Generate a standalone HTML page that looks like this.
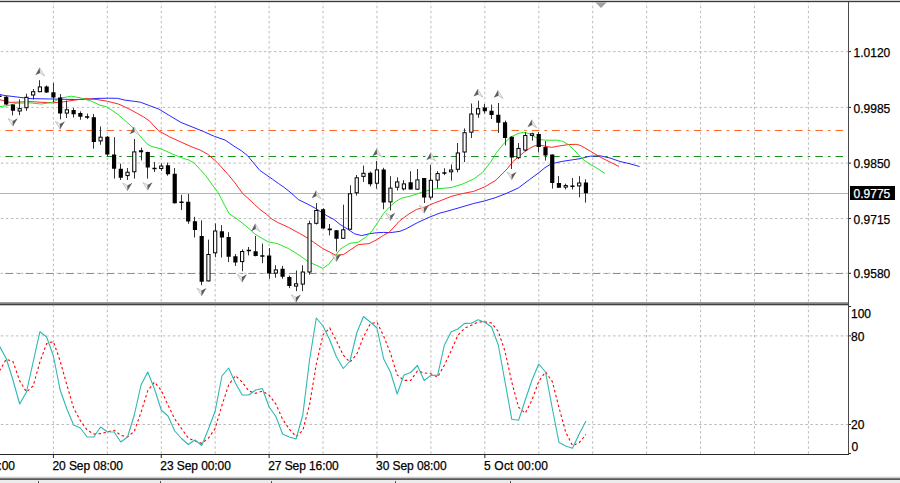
<!DOCTYPE html>
<html><head><meta charset="utf-8"><title>Chart</title>
<style>html,body{margin:0;padding:0;background:#fff;width:900px;height:483px;overflow:hidden}svg{display:block}text{font-family:"Liberation Sans",sans-serif;font-size:12px;fill:#000;stroke:#000;stroke-width:0.25px}</style>
</head><body>
<svg width="900" height="483" viewBox="0 0 900 483">
<rect x="0" y="0" width="900" height="483" fill="#fff"/>
<path d="M53.4 2V302M53.4 306V454M107.33 2V302M107.33 306V454M161.26 2V302M161.26 306V454M215.19 2V302M215.19 306V454M269.12 2V302M269.12 306V454M323.05 2V302M323.05 306V454M376.98 2V302M376.98 306V454M430.91 2V302M430.91 306V454M484.84 2V302M484.84 306V454M538.77 2V302M538.77 306V454M592.7 2V302M592.7 306V454M646.63 2V302M646.63 306V454M700.56 2V302M700.56 306V454M754.49 2V302M754.49 306V454M808.42 2V302M808.42 306V454" stroke="#bcbcbc" stroke-width="1" stroke-dasharray="2.53 2.53" stroke-dashoffset="1.4" fill="none"/>
<path d="M0 51.6H848M0 107.4H848M0 163.1H848M0 218.5H848M0 273.3H848M0 335.9H848M0 424.5H848" stroke="#bcbcbc" stroke-width="1" stroke-dasharray="2.53 2.53" stroke-dashoffset="-0.8" fill="none"/>
<path d="M0 130.5H843" stroke="#ff6628" stroke-width="1" stroke-dasharray="7.6 5.06 2.53 5.06" stroke-dashoffset="-5.3" fill="none"/>
<path d="M0 273.5H843" stroke="#ff6628" stroke-width="1" stroke-dasharray="7.6 5.06 2.53 5.06" stroke-dashoffset="-5.3" fill="none"/>
<path d="M0 156.5H843" stroke="#17901a" stroke-width="1" stroke-dasharray="7.6 5.06 2.53 5.06" stroke-dashoffset="-5.3" fill="none"/>
<path d="M0 193.5H848" stroke="#b4b4b4" stroke-width="1" fill="none"/>
<polyline points="0,94.5 4,95.4 30,98.6 52.4,99 74.7,99.5 86,99.3 97,98.4 108.3,98.2 117.4,98.3 124.8,100.1 134.2,101.3 140.4,102.2 149.7,105.7 158.6,109 169.7,115.7 180.9,122.4 192.1,126.9 203.3,131.4 214.5,136.4 225,140 235,146.8 241.2,150.6 247.4,155.5 253.6,163 259.8,170.4 266.1,174.8 272.3,179.1 278.5,183.5 284.7,187.8 290.9,192.8 298.4,199.6 307.2,203.9 316,208.6 321,211.9 327.7,216.2 334,219.5 340,224.4 347.2,228.8 354.5,233.8 361.7,235.6 369,233.8 376.2,232.8 383.5,232.4 390.7,232.6 400,231.3 406.5,228.6 417.7,222.5 428.9,217.4 440.1,213 445,211.8 460,207.5 473.6,203.5 484.7,200.9 495.9,197.5 507.1,193.1 518.3,188 529.5,179.6 540,171.8 545,167.6 551.5,163.7 562.7,161.3 573.9,159.6 580,158.7 590,156.2 600,155.8 610,158 620,161.5 630,163.8 639.5,166.5" stroke="#1a1aff" stroke-width="0.95" fill="none" stroke-linejoin="round"/>
<polyline points="0,99.7 5,101.2 10,102.4 30,101.6 52.4,102.9 63.6,101.8 74.7,100.1 86,98.6 97,99.5 107.5,101.3 118.6,104.1 124.8,106.9 131.1,110 137.3,113.4 143.5,116.8 149.7,121.2 158.6,130.8 169.7,136.9 180.9,142 192.1,147 200.3,150.1 208.2,154.5 217.1,162.4 228.3,174.7 235,182.9 242.5,193.4 249.9,200 254.7,204.6 260,209.5 266.2,214 271.8,219 277.4,222.3 288.6,227.4 299.7,233.5 307.6,238 313.2,241.9 322.4,248.3 335.7,255.2 340.7,254.9 343.6,254.5 350.1,250 358.1,244.7 369,243.6 376.2,240 383.5,235.3 389.1,232.3 399.8,220.7 408.1,214.5 416.4,209.5 425,207 434.5,202.9 440,200.9 451.2,196.4 462.4,193.6 473.6,191.4 484.7,186.9 495.9,180.2 507.5,168.5 512.5,162 518.2,157 523.7,152.4 529.1,148.6 534.7,145.8 540.3,145.2 545.9,146.3 551.5,147.4 557.1,146.3 568.3,144.6 576.1,144.3 580,145.3 585,148 590,151 595,154 600,157 610,162 619,166.5" stroke="#ff1a1a" stroke-width="0.95" fill="none" stroke-linejoin="round"/>
<polyline points="0,106.6 8,105.6 17,103.2 30,102.9 41.2,104 52.4,102.3 61.3,97.9 71.4,96.2 80.3,97.9 91.5,101.2 100,105.2 106.2,106.6 112.4,110.6 118.6,115 126.1,121.5 130,124.9 136.2,131.9 147.4,144.2 152,146.6 161.2,148.9 172.4,154 183.6,158.5 189.1,160.1 194.7,163.5 205.9,175.8 212.4,185 217.5,191.7 221.2,198.4 224.5,205.1 229,213.5 238,219.7 249.1,228.6 255,234.1 261.5,238.1 268.4,241.9 277.4,243.6 288.6,248.6 297.2,253.8 307.4,261 311.7,263.2 323,268.4 329.1,263.9 335.7,255.2 340,249.4 344.3,246.5 350,243.3 358.1,242.2 365.4,237.5 372.6,230.2 377.7,222.5 383.3,213.7 389.7,206.8 395.3,201.8 400.9,198.4 412.1,195.6 423.3,191.7 434.5,188.9 440,188.6 451.2,187.5 462.4,184.1 473.6,179.1 482.5,172.4 490.2,162.8 496.3,152.8 503.4,144.1 510.1,137.4 518,133.5 523.6,132.3 529.1,133.5 534.7,136.8 540.3,139.6 545.9,140.2 557.1,140.2 562.7,141.3 568.3,144.6 573.9,149.7 579,155.5 585,161 590,164.3 595,167 605,173.5" stroke="#14e614" stroke-width="0.95" fill="none" stroke-linejoin="round"/>
<path d="M-0.5 94.5V98M6.5 96V105.2M12.5 104.4V115.4M19.5 99.4V115.2M26.5 93.7V110.8M33.5 89V99.5M39.5 80.2V92.2M46.5 85.4V93M53.5 82.9V102M60.5 94V119.4M66.5 100.6V118M73.5 108V117.5M80.5 111.4V119.7M87.5 113.6V119M93.5 113.9V148.7M100.5 126.5V144.8M107.5 136V156.2M114.5 137.2V178.6M120.5 163.6V180M127.5 168V180M134.5 139V178.6M141.5 147.7V160.4M147.5 151.7V178.6M154.5 162V172M161.5 163.3V170.9M167.5 162.6V175.7M174.5 168V203.5M181.5 194.8V210M188.5 194V223.8M194.5 216.8V237.5M201.5 220.3V285.3M208.5 239.6V281.4M215.5 223.4V257.2M221.5 225.2V257.5M228.5 232.2V262.1M235.5 254V266M242.5 249.3V271.2M248.5 247V255.4M255.5 236V256.4M262.5 243.5V263.2M269.5 248V278.8M275.5 265.3V277.7M282.5 265.9V278.8M289.5 275.6V288.1M296.5 270.5V291.2M302.5 265.3V291.2M309.5 220.7V274.6M316.5 203.1V224.5M323.5 208.3V229M329.5 224V235.4M336.5 230.2V251.4M343.5 204.7V238.8M350.5 185.3V229.7M356.5 175V195.6M363.5 165.5V181.9M370.5 171.6V186.4M376.5 160.9V188.7M383.5 167.8V209.2M390.5 176.2V210.4M397.5 177.3V190.5M403.5 180.1V190.5M410.5 171.2V189.4M417.5 169V190M424.5 178.1V203M430.5 164.9V199.6M437.5 171.2V188.4M444.5 168.2V175.1M451.5 164.5V180.6M457.5 143V172.3M464.5 128.4V162M471.5 103.5V138M478.5 100.7V117.8M484.5 104V113.5M491.5 104.5V119M498.5 102.9V133M505.5 120.6V145.4M511.5 136.3V169M518.5 143V159.2M525.5 132.2V151.3M532.5 132.7V140.7M538.5 132.1V152.3M545.5 141.1V160.6M552.5 154.5V188.6M558.5 176.1V188M565.5 183.6V189.5M572.5 178V189.5M579.5 176.1V197.4M585.5 179.3V202.6" stroke="#333" stroke-width="1" fill="none"/>
<path d="M-2.63 95.6h4.2V97h-4.2zM4.11 96.8h4.2V104.4h-4.2zM10.85 104.4h4.2V110.8h-4.2zM44.56 86.5h4.2V92.6h-4.2zM51.3 92.2h4.2V97.4h-4.2zM58.04 97.4h4.2V113.6h-4.2zM71.52 110h4.2V114.2h-4.2zM78.26 112.9h4.2V116.8h-4.2zM85 116.25h4.2v1.5h-4.2zM91.74 117.2h4.2V141.9h-4.2zM105.22 136.7h4.2V154.5h-4.2zM111.97 154.6h4.2V168.8h-4.2zM118.71 168.8h4.2V177.8h-4.2zM138.93 150.3h4.2V152.3h-4.2zM145.67 152h4.2V167.4h-4.2zM152.41 167.75h4.2v1.5h-4.2zM165.89 165.2h4.2V174.2h-4.2zM172.63 173.8h4.2V203.2h-4.2zM179.38 201.5h4.2v1.5h-4.2zM186.12 201.7h4.2V221.6h-4.2zM192.86 221.2h4.2V230h-4.2zM199.6 236h4.2V281.8h-4.2zM219.82 231.2h4.2V237.5h-4.2zM226.56 237h4.2V256.8h-4.2zM233.3 256.3h4.2V262.5h-4.2zM246.79 249.85h4.2v1.5h-4.2zM253.53 251.2h4.2V255.9h-4.2zM260.27 255.2h4.2v1.5h-4.2zM267.01 255.5h4.2V273.6h-4.2zM280.49 268.8h4.2V276.7h-4.2zM287.23 277.1h4.2V286h-4.2zM320.94 209.3h4.2V228.6h-4.2zM327.68 228.6h4.2v1.6h-4.2zM334.42 230.2h4.2V238.8h-4.2zM368.12 172.8h4.2V184.2h-4.2zM381.61 169.4h4.2V202.4h-4.2zM408.57 182.3h4.2V189.4h-4.2zM422.05 178.1h4.2V197.6h-4.2zM442.27 172.15h4.2v1.5h-4.2zM482.72 107.4h4.2V111.2h-4.2zM489.46 110.7h4.2V115.1h-4.2zM496.2 114.8h4.2V122.7h-4.2zM502.94 122.3h4.2V138h-4.2zM509.68 136.7h4.2V157.5h-4.2zM536.65 134h4.2V147h-4.2zM543.39 147h4.2V155.6h-4.2zM550.13 154.5h4.2V183h-4.2zM556.87 183h4.2V187.7h-4.2zM570.35 185.5h4.2v1.5h-4.2zM583.84 182.5h4.2V193.3h-4.2z" fill="#000"/>
<rect x="18.09" y="108.6" width="3.2" height="2.4" fill="#fff" stroke="#000" stroke-width="1"/>
<rect x="24.83" y="97.3" width="3.2" height="10.4" fill="#fff" stroke="#000" stroke-width="1"/>
<rect x="31.57" y="91.7" width="3.2" height="3.3" fill="#fff" stroke="#000" stroke-width="1"/>
<rect x="38.31" y="86.9" width="3.2" height="4.8" fill="#fff" stroke="#000" stroke-width="1"/>
<rect x="65.28" y="109.8" width="3.2" height="3.3" fill="#fff" stroke="#000" stroke-width="1"/>
<rect x="98.98" y="137.2" width="3.2" height="3.7" fill="#fff" stroke="#000" stroke-width="1"/>
<rect x="125.95" y="172.2" width="3.2" height="3.4" fill="#fff" stroke="#000" stroke-width="1"/>
<rect x="132.69" y="151.9" width="3.2" height="19.9" fill="#fff" stroke="#000" stroke-width="1"/>
<rect x="159.65" y="166" width="3.2" height="2.5" fill="#fff" stroke="#000" stroke-width="1"/>
<rect x="206.84" y="254.5" width="3.2" height="26.4" fill="#fff" stroke="#000" stroke-width="1"/>
<rect x="213.58" y="231" width="3.2" height="21.8" fill="#fff" stroke="#000" stroke-width="1"/>
<rect x="240.55" y="251.5" width="3.2" height="10.1" fill="#fff" stroke="#000" stroke-width="1"/>
<rect x="274.25" y="269.9" width="3.2" height="3.2" fill="#fff" stroke="#000" stroke-width="1"/>
<rect x="294.47" y="283.8" width="3.2" height="2.3" fill="#fff" stroke="#000" stroke-width="1"/>
<rect x="301.21" y="272" width="3.2" height="12.1" fill="#fff" stroke="#000" stroke-width="1"/>
<rect x="307.95" y="223.7" width="3.2" height="48.3" fill="#fff" stroke="#000" stroke-width="1"/>
<rect x="314.7" y="210.5" width="3.2" height="12.8" fill="#fff" stroke="#000" stroke-width="1"/>
<rect x="341.66" y="229.8" width="3.2" height="8.5" fill="#fff" stroke="#000" stroke-width="1"/>
<rect x="348.4" y="193.8" width="3.2" height="35.4" fill="#fff" stroke="#000" stroke-width="1"/>
<rect x="355.14" y="177.8" width="3.2" height="15" fill="#fff" stroke="#000" stroke-width="1"/>
<rect x="361.88" y="173.3" width="3.2" height="3.1" fill="#fff" stroke="#000" stroke-width="1"/>
<rect x="375.36" y="169.9" width="3.2" height="13.3" fill="#fff" stroke="#000" stroke-width="1"/>
<rect x="388.85" y="188.1" width="3.2" height="13.8" fill="#fff" stroke="#000" stroke-width="1"/>
<rect x="395.59" y="181.9" width="3.2" height="5.3" fill="#fff" stroke="#000" stroke-width="1"/>
<rect x="402.33" y="183.9" width="3.2" height="5" fill="#fff" stroke="#000" stroke-width="1"/>
<rect x="415.81" y="179.9" width="3.2" height="9.3" fill="#fff" stroke="#000" stroke-width="1"/>
<rect x="429.29" y="180.3" width="3.2" height="16.8" fill="#fff" stroke="#000" stroke-width="1"/>
<rect x="436.03" y="173.6" width="3.2" height="6.5" fill="#fff" stroke="#000" stroke-width="1"/>
<rect x="449.52" y="170" width="3.2" height="1.8" fill="#fff" stroke="#000" stroke-width="1"/>
<rect x="456.26" y="153" width="3.2" height="16.3" fill="#fff" stroke="#000" stroke-width="1"/>
<rect x="463" y="132.7" width="3.2" height="19.3" fill="#fff" stroke="#000" stroke-width="1"/>
<rect x="469.74" y="114" width="3.2" height="18.2" fill="#fff" stroke="#000" stroke-width="1"/>
<rect x="476.48" y="108.7" width="3.2" height="5.3" fill="#fff" stroke="#000" stroke-width="1"/>
<rect x="516.93" y="148.4" width="3.2" height="9.3" fill="#fff" stroke="#000" stroke-width="1"/>
<rect x="523.67" y="135.5" width="3.2" height="14.6" fill="#fff" stroke="#000" stroke-width="1"/>
<rect x="530.41" y="133.8" width="3.2" height="1.6" fill="#fff" stroke="#000" stroke-width="1"/>
<rect x="564.11" y="185.55" width="3.2" height="1.6" fill="#fff" stroke="#000" stroke-width="1"/>
<rect x="577.6" y="183" width="3.2" height="2.9" fill="#fff" stroke="#000" stroke-width="1"/>
<path d="M39.52 67.7L40.12 73.1L44.71 75.9z" fill="#efefef" stroke="#b4b4b4" stroke-width="0.7" stroke-linejoin="round"/><path d="M39.52 67.7L35.31 75.2L40.12 73.1z" fill="#5c5c5c"/>
<path d="M133.89 126.7L134.49 132.1L139.09 134.9z" fill="#efefef" stroke="#b4b4b4" stroke-width="0.7" stroke-linejoin="round"/><path d="M133.89 126.7L129.69 134.2L134.49 132.1z" fill="#5c5c5c"/>
<path d="M255.23 223.7L255.83 229.1L260.43 231.9z" fill="#efefef" stroke="#b4b4b4" stroke-width="0.7" stroke-linejoin="round"/><path d="M255.23 223.7L251.03 231.2L255.83 229.1z" fill="#5c5c5c"/>
<path d="M315.9 190.7L316.5 196.1L321.1 198.9z" fill="#efefef" stroke="#b4b4b4" stroke-width="0.7" stroke-linejoin="round"/><path d="M315.9 190.7L311.7 198.2L316.5 196.1z" fill="#5c5c5c"/>
<path d="M376.56 148.7L377.16 154.1L381.76 156.9z" fill="#efefef" stroke="#b4b4b4" stroke-width="0.7" stroke-linejoin="round"/><path d="M376.56 148.7L372.36 156.2L377.16 154.1z" fill="#5c5c5c"/>
<path d="M430.49 152.7L431.09 158.1L435.69 160.9z" fill="#efefef" stroke="#b4b4b4" stroke-width="0.7" stroke-linejoin="round"/><path d="M430.49 152.7L426.29 160.2L431.09 158.1z" fill="#5c5c5c"/>
<path d="M477.68 89L478.28 94.4L482.88 97.2z" fill="#efefef" stroke="#b4b4b4" stroke-width="0.7" stroke-linejoin="round"/><path d="M477.68 89L473.48 96.5L478.28 94.4z" fill="#5c5c5c"/>
<path d="M497.9 90.3L498.5 95.7L503.1 98.5z" fill="#efefef" stroke="#b4b4b4" stroke-width="0.7" stroke-linejoin="round"/><path d="M497.9 90.3L493.7 97.8L498.5 95.7z" fill="#5c5c5c"/>
<path d="M531.61 119.7L532.21 125.1L536.81 127.9z" fill="#efefef" stroke="#b4b4b4" stroke-width="0.7" stroke-linejoin="round"/><path d="M531.61 119.7L527.41 127.2L532.21 125.1z" fill="#5c5c5c"/>
<path d="M12.95 126.3L8.15 118.5L12.75 120.9z" fill="#efefef" stroke="#b4b4b4" stroke-width="0.7" stroke-linejoin="round"/><path d="M12.95 126.3L12.75 120.9L17.75 118.3z" fill="#5c5c5c"/>
<path d="M60.14 129.3L55.34 121.5L59.94 123.9z" fill="#efefef" stroke="#b4b4b4" stroke-width="0.7" stroke-linejoin="round"/><path d="M60.14 129.3L59.94 123.9L64.94 121.3z" fill="#5c5c5c"/>
<path d="M127.55 190.8L122.75 183L127.35 185.4z" fill="#efefef" stroke="#b4b4b4" stroke-width="0.7" stroke-linejoin="round"/><path d="M127.55 190.8L127.35 185.4L132.35 182.8z" fill="#5c5c5c"/>
<path d="M147.77 190.3L142.97 182.5L147.57 184.9z" fill="#efefef" stroke="#b4b4b4" stroke-width="0.7" stroke-linejoin="round"/><path d="M147.77 190.3L147.57 184.9L152.57 182.3z" fill="#5c5c5c"/>
<path d="M201.7 295.9L196.9 288.1L201.5 290.5z" fill="#efefef" stroke="#b4b4b4" stroke-width="0.7" stroke-linejoin="round"/><path d="M201.7 295.9L201.5 290.5L206.5 287.9z" fill="#5c5c5c"/>
<path d="M242.15 282.3L237.34 274.5L241.95 276.9z" fill="#efefef" stroke="#b4b4b4" stroke-width="0.7" stroke-linejoin="round"/><path d="M242.15 282.3L241.95 276.9L246.95 274.3z" fill="#5c5c5c"/>
<path d="M296.07 302.6L291.27 294.8L295.87 297.2z" fill="#efefef" stroke="#b4b4b4" stroke-width="0.7" stroke-linejoin="round"/><path d="M296.07 302.6L295.87 297.2L300.87 294.6z" fill="#5c5c5c"/>
<path d="M336.52 261.8L331.72 254L336.32 256.4z" fill="#efefef" stroke="#b4b4b4" stroke-width="0.7" stroke-linejoin="round"/><path d="M336.52 261.8L336.32 256.4L341.32 253.8z" fill="#5c5c5c"/>
<path d="M390.45 220.8L385.65 213L390.25 215.4z" fill="#efefef" stroke="#b4b4b4" stroke-width="0.7" stroke-linejoin="round"/><path d="M390.45 220.8L390.25 215.4L395.25 212.8z" fill="#5c5c5c"/>
<path d="M424.15 213.3L419.35 205.5L423.95 207.9z" fill="#efefef" stroke="#b4b4b4" stroke-width="0.7" stroke-linejoin="round"/><path d="M424.15 213.3L423.95 207.9L428.95 205.3z" fill="#5c5c5c"/>
<path d="M511.78 179.8L506.98 172L511.58 174.4z" fill="#efefef" stroke="#b4b4b4" stroke-width="0.7" stroke-linejoin="round"/><path d="M511.78 179.8L511.58 174.4L516.58 171.8z" fill="#5c5c5c"/>
<path d="M595 2H607L601 8z" fill="#a0a0a0"/>
<svg x="0" y="305" width="848" height="150" viewBox="0 305 848 150" overflow="hidden">
<polyline points="-0.53,371 6.21,359.17 12.95,361.5 19.69,380.83 26.43,392 33.17,386 39.91,361.9 46.66,343.57 53.4,341.57 60.14,361 66.88,385 73.62,408 80.36,420.67 87.1,430 93.84,434 100.58,433.67 107.32,431.93 114.07,430.27 120.81,435.27 127.55,437 134.29,431.33 141.03,412.33 147.77,390.67 154.51,382 161.25,390.33 167.99,405 174.73,419 181.48,428.5 188.22,438 194.96,441 201.7,443.33 208.44,438.17 215.18,428.5 221.92,405.33 228.66,385 235.4,375.67 242.15,382 248.89,391 255.63,393.33 262.37,391.17 269.11,395.17 275.85,404 282.59,419.17 289.33,429.17 296.07,436.67 302.81,430.33 309.55,404.67 316.3,364.33 323.04,334.67 329.78,328 336.52,341 343.26,355.17 350,362.17 356.74,354.17 363.48,336.83 370.22,323.83 376.96,322.17 383.71,336.33 390.45,353 397.19,375 403.93,380.33 410.67,380.5 417.41,371 424.15,372.83 430.89,373.8 437.63,377.07 444.37,365.23 451.12,350.77 457.86,335.33 464.6,328.13 471.34,325.2 478.08,322.13 484.82,321.77 491.56,323.03 498.3,331.43 505.04,351.33 511.78,382.1 518.53,407.2 525.27,413.2 532.01,400.1 538.75,381.33 545.49,372 552.23,381.33 558.97,407.5 565.71,432.17 572.45,445.57 579.2,442.73 585.94,434.4" stroke="#ff0000" stroke-width="1.1" stroke-dasharray="2.53 2.53" fill="none"/>
<polyline points="-14.01,394 -7.27,373 -0.53,346 6.21,358.5 12.95,380 19.69,404 26.43,392 33.17,362 39.91,331.7 46.66,337 53.4,356 60.14,390 66.88,409 73.62,425 80.36,428 87.1,437 93.84,437 100.58,427 107.32,431.8 114.07,432 120.81,442 127.55,437 134.29,415 141.03,385 147.77,372 154.51,389 161.25,410 167.99,416 174.73,431 181.48,438.5 188.22,444.5 194.96,440 201.7,445.5 208.44,429 215.18,411 221.92,376 228.66,368 235.4,383 242.15,395 248.89,395 255.63,390 262.37,388.5 269.11,407 275.85,416.5 282.59,434 289.33,437 296.07,439 302.81,415 309.55,360 316.3,318 323.04,326 329.78,340 336.52,357 343.26,368.5 350,361 356.74,333 363.48,316.5 370.22,322 376.96,328 383.71,359 390.45,372 397.19,394 403.93,375 410.67,372.5 417.41,365.5 424.15,380.5 430.89,375.4 437.63,375.3 444.37,345 451.12,332 457.86,329 464.6,323.4 471.34,323.2 478.08,319.8 484.82,322.3 491.56,327 498.3,345 505.04,382 511.78,419.3 518.53,420.3 525.27,400 532.01,380 538.75,364 545.49,372 552.23,408 558.97,442.5 565.71,446 572.45,448.2 579.2,434 585.94,421" stroke="#2fb8b0" stroke-width="1.1" fill="none" stroke-linejoin="round"/>
</svg>
<rect x="0" y="0" width="900" height="1" fill="#d4d4d4"/>
<rect x="0" y="1" width="900" height="1" fill="#3a3a3a"/>
<rect x="0" y="2" width="900" height="1" fill="#bdbdbd" opacity="0.5"/>
<rect x="0" y="302" width="849" height="1" fill="#9c9c9c"/>
<rect x="0" y="303" width="849" height="1" fill="#858585"/>
<rect x="0" y="304" width="849" height="1" fill="#404040"/>
<rect x="0" y="305" width="848" height="1" fill="#c4c4c4"/>
<rect x="848" y="2" width="1" height="453" fill="#4a4a4a"/>
<rect x="0" y="454" width="849" height="1" fill="#2a2a2a"/>
<path d="M849 51.6h2M849 107.4h2M849 163.1h2M849 218.5h2M849 273.3h2M849 306.5h2M849 335.9h2M849 424.5h2M849 453.5h2" stroke="#222" stroke-width="1"/>
<text x="853.6" y="56.7" class="pl">1.0120</text>
<text x="853.6" y="112.5" class="pl">0.9985</text>
<text x="853.6" y="168.2" class="pl">0.9850</text>
<text x="853.6" y="223.6" class="pl">0.9715</text>
<text x="853.6" y="278.4" class="pl">0.9580</text>
<rect x="850" y="186" width="45" height="14" fill="#000"/>
<text x="853.6" y="198.3" class="pl" style="fill:#fff;stroke:#fff">0.9775</text>
<text x="851" y="317.8">100</text>
<text x="851" y="340.6">80</text>
<text x="851" y="428.9">20</text>
<text x="851.6" y="450.9">0</text>
<path d="M53.4 455v3M161.26 455v3M269.12 455v3M376.98 455v3M484.84 455v3" stroke="#222" stroke-width="1"/>
<text x="52.5" y="469.5" letter-spacing="-0.08">20 Sep 08:00</text>
<text x="160.36" y="469.5" letter-spacing="-0.08">23 Sep 00:00</text>
<text x="268.22" y="469.5" letter-spacing="-0.08">27 Sep 16:00</text>
<text x="376.08" y="469.5" letter-spacing="-0.08">30 Sep 08:00</text>
<text x="483.94" y="469.5" letter-spacing="0.2">5 Oct 00:00</text>
<text x="-55.6" y="469.5" letter-spacing="-0.08">15 Sep 20:00</text>
<rect x="0" y="476" width="900" height="1" fill="#f2f2f2"/>
<rect x="0" y="477" width="900" height="1" fill="#cfcfcf"/>
<rect x="0" y="478" width="900" height="1" fill="#7a7a7a"/>
<rect x="0" y="479" width="900" height="1" fill="#5a5a5a"/>
<rect x="0" y="480" width="900" height="3" fill="#ececec"/>
<path d="M38.5 481V483M160.5 481V483M271.5 481V483M395.5 481V483M510.5 481V483" stroke="#555" stroke-width="1"/>
</svg>
</body></html>
